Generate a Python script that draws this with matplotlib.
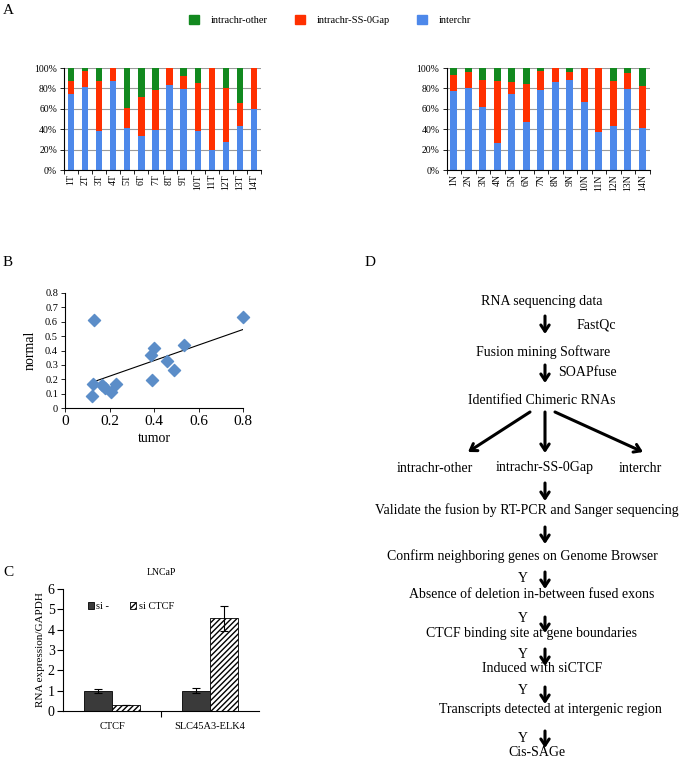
import numpy as np
import matplotlib
matplotlib.use('Agg')
import matplotlib.pyplot as plt
from matplotlib.patches import Patch

plt.rcParams['font.family'] = ['Liberation Serif', 'DejaVu Serif']

# ---- data ----
tumor_samples = ['1T', '2T', '3T', '4T', '5T', '6T', '7T', '8T', '9T', '10T', '11T', '12T', '13T', '14T']
tumor_interchr = [75, 81, 38, 87, 41, 33, 39, 83, 79, 38, 20, 27, 43, 60]
tumor_ss0gap = [12, 16, 49, 13, 20, 39, 39, 17, 13, 47, 80, 53, 23, 40]
tumor_other = [13, 3, 13, 0, 39, 28, 22, 0, 8, 15, 0, 20, 34, 0]

normal_samples = ['1N', '2N', '3N', '4N', '5N', '6N', '7N', '8N', '9N', '10N', '11N', '12N', '13N', '14N']
normal_interchr = [77, 80, 62, 26, 75, 47, 78, 86, 88, 67, 37, 43, 79, 41]
normal_ss0gap = [16, 16, 26, 61, 11, 37, 19, 14, 8, 33, 63, 44, 16, 41]
normal_other = [7, 4, 12, 13, 14, 16, 3, 0, 4, 0, 0, 13, 5, 18]

scatter_tumor = [0.13, 0.80, 0.125, 0.12, 0.165, 0.18, 0.205, 0.23, 0.385, 0.40, 0.39, 0.46, 0.49, 0.535]
scatter_normal = [0.61, 0.63, 0.17, 0.085, 0.16, 0.14, 0.11, 0.165, 0.37, 0.415, 0.195, 0.33, 0.265, 0.435]

genes = ['CTCF', 'SLC45A3-ELK4']
si_ctrl = [1.0, 1.0]
si_ctrl_err = [0.1, 0.12]
si_ctcf = [0.3, 4.55]
si_ctcf_err = [0.0, 0.6]

C_GREEN = '#12891f'
C_RED = '#ff3000'
C_BLUE = '#4d88ea'

W, H = 683, 760
fig = plt.figure(figsize=(W / 100, H / 100), dpi=100)


def px_axes(x0, y0, x1, y1):
    return fig.add_axes([x0 / W, 1 - y1 / H, (x1 - x0) / W, (y1 - y0) / H])


def stacked(ax, labels, blue, red, green):
    x = np.arange(len(labels))
    b = np.array(blue)
    r = np.array(red)
    g = np.array(green)
    ax.bar(x, b, width=0.45, color=C_BLUE, zorder=2)
    ax.bar(x, r, bottom=b, width=0.45, color=C_RED, zorder=2)
    ax.bar(x, g, bottom=b + r, width=0.45, color=C_GREEN, zorder=2)
    ax.set_xlim(-0.5, len(labels) - 0.5)
    ax.set_ylim(0, 100)
    ax.set_yticks(range(0, 101, 20))
    ax.set_yticklabels([f'{v}%' for v in range(0, 101, 20)], fontsize=7)
    ax.set_xticks(x)
    ax.set_xticklabels(labels, rotation=90, fontsize=7)
    ax.set_xticks(np.arange(-0.5, len(labels)), minor=True)
    ax.tick_params(axis='x', which='major', length=0, pad=3)
    ax.tick_params(axis='x', which='minor', length=3, width=0.6)
    ax.tick_params(axis='y', length=3, width=0.6, pad=2)
    ax.yaxis.grid(True, color='#9a9a9a', lw=0.8, zorder=0)
    ax.set_axisbelow(True)
    for s in ['top', 'right']:
        ax.spines[s].set_visible(False)
    ax.spines['left'].set_linewidth(0.8)
    ax.spines['bottom'].set_linewidth(0.8)


# ---- panel A ----
axA1 = px_axes(64, 68, 261, 170)
stacked(axA1, tumor_samples, tumor_interchr, tumor_ss0gap, tumor_other)
axA2 = px_axes(446.5, 68, 649.5, 170)
stacked(axA2, normal_samples, normal_interchr, normal_ss0gap, normal_other)

handles = [Patch(color=C_GREEN, label='intrachr-other'),
           Patch(color=C_RED, label='intrachr-SS-0Gap'),
           Patch(color=C_BLUE, label='interchr')]
fig.legend(handles=handles, ncol=3, loc='center', bbox_to_anchor=(330 / W, 1 - 20 / H),
           frameon=False, fontsize=7.5, handlelength=1.0, handleheight=1.0,
           handletextpad=1.1, columnspacing=2.6)

# ---- panel B ----
axB = px_axes(65, 293, 243, 408)
axB.scatter(scatter_tumor, scatter_normal, marker='D', s=38, color='#5b8dc8',
            zorder=3, clip_on=False)
coef = np.polyfit(scatter_tumor, scatter_normal, 1)
xs = np.array([min(scatter_tumor), max(scatter_tumor)])
axB.plot(xs, np.polyval(coef, xs), color='black', lw=0.8, zorder=2)
axB.set_xlim(0, 0.8)
axB.set_ylim(0, 0.8)
axB.set_xticks([0, 0.2, 0.4, 0.6, 0.8])
axB.set_xticklabels(['0', '0.2', '0.4', '0.6', '0.8'], fontsize=11)
axB.set_yticks(np.arange(0, 0.81, 0.1))
axB.set_yticklabels(['0'] + [f'{v:.1f}' for v in np.arange(0.1, 0.81, 0.1)], fontsize=7.5)
axB.tick_params(length=3, width=0.6, pad=2)
axB.set_xlabel('tumor', fontsize=10, labelpad=3)
axB.set_ylabel('normal', fontsize=10, labelpad=6)
for s in ['top', 'right']:
    axB.spines[s].set_visible(False)

# ---- panel C ----
axC = px_axes(63, 589, 259, 711)
xc = np.arange(len(genes))
bw = 0.29
axC.bar(xc - bw / 2, si_ctrl, width=bw, color='#3a3a3a', edgecolor='black', lw=0.6,
        yerr=si_ctrl_err, capsize=3, error_kw=dict(lw=0.8, capthick=0.8), label='si -')
axC.bar(xc + bw / 2, si_ctcf, width=bw, color='white', edgecolor='black', lw=0.6,
        hatch='//////', yerr=si_ctcf_err, capsize=3, error_kw=dict(lw=0.8, capthick=0.8),
        label='si CTCF')
axC.set_xlim(-0.5, len(genes) - 0.5)
axC.set_ylim(0, 6)
axC.set_yticks(range(0, 7))
axC.set_yticklabels([str(v) for v in range(0, 7)], fontsize=10)
axC.set_xticks(xc)
axC.set_xticklabels(genes, fontsize=7.5)
axC.set_xticks([0.5], minor=True)
axC.tick_params(axis='x', which='major', length=0, pad=8)
axC.tick_params(axis='x', which='minor', length=4, width=0.8)
axC.tick_params(axis='y', length=4, width=0.8, pad=2)
axC.set_ylabel('RNA expression/GAPDH', fontsize=8, labelpad=2)
axC.set_title('LNCaP', fontsize=7, pad=10)
for s in ['top', 'right']:
    axC.spines[s].set_visible(False)
axC.legend(loc='upper left', bbox_to_anchor=(0.08, 0.97), ncol=2, frameon=False,
           fontsize=7.5, handlelength=0.6, handleheight=0.6, handletextpad=0.2,
           columnspacing=2.0)

# ---- overlay: panel letters and flowchart D ----
ov = fig.add_axes([0, 0, 1, 1])
ov.set_xlim(0, W)
ov.set_ylim(H, 0)
ov.axis('off')
ov.patch.set_visible(False)

for letter, (lx, ly) in {'A': (8, 10), 'B': (8, 263), 'C': (8, 572), 'D': (370, 263)}.items():
    ov.text(lx, ly, letter, fontsize=11, ha='center', va='center')

fs = 10
steps = [
    (542, 302, 'RNA sequencing data'),
    (543, 352, 'Fusion mining Software'),
    (542, 400, 'Identified Chimeric RNAs'),
    (435, 468, 'intrachr-other'),
    (545, 468, 'intrachr-SS-0Gap'),
    (640, 468, 'interchr'),
    (527, 510, 'Validate the fusion by RT-PCR and Sanger sequencing'),
    (522, 556, 'Confirm neighboring genes on Genome Browser'),
    (532, 595, 'Absence of deletion in-between fused exons'),
    (531, 633, 'CTCF binding site at gene boundaries'),
    (542, 668, 'Induced with siCTCF'),
    (550, 710, 'Transcripts detected at intergenic region'),
    (537, 753, 'Cis-SAGe'),
]
for sx, sy, label in steps:
    ov.text(sx, sy, label, fontsize=fs, ha='center', va='center')

ov.text(577, 325, 'FastQc', fontsize=fs, ha='left', va='center')
ov.text(558, 373, 'SOAPfuse', fontsize=fs, ha='left', va='center')
for yy in [578, 619, 654, 691, 739]:
    ov.text(523, yy, 'Y', fontsize=fs, ha='center', va='center')

arrow_kw = dict(arrowstyle='->,head_length=0.45,head_width=0.3', lw=2.2, color='black',
                shrinkA=0, shrinkB=0)
vertical = [(316, 334), (365, 383), (483, 501), (527, 544), (572, 589), (617, 633),
            (649, 666), (687, 704), (731, 748)]
for y0, y1 in vertical:
    ov.annotate('', xy=(545, y1), xytext=(545, y0), arrowprops=arrow_kw)
ov.annotate('', xy=(468, 452), xytext=(530, 412), arrowprops=arrow_kw)
ov.annotate('', xy=(545, 453), xytext=(545, 412), arrowprops=arrow_kw)
ov.annotate('', xy=(643, 452), xytext=(555, 412), arrowprops=arrow_kw)

fig.savefig('out.png', dpi=100)
